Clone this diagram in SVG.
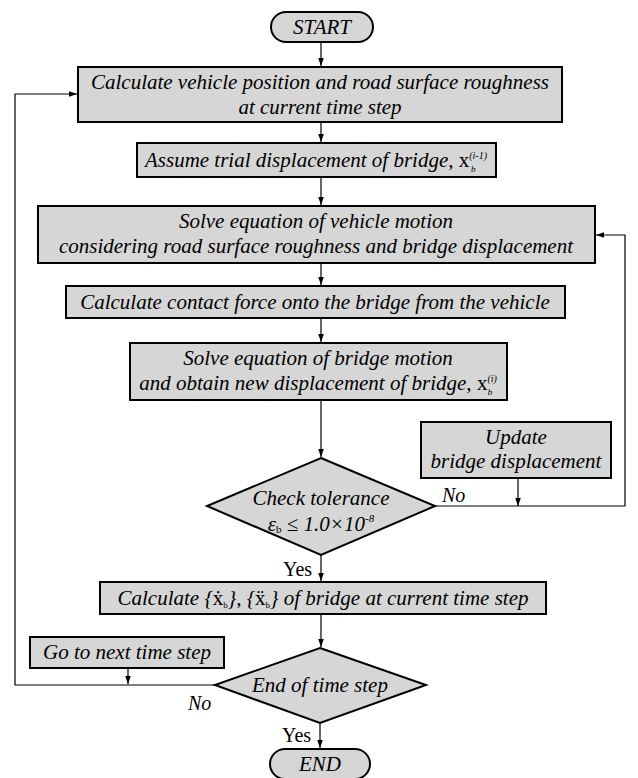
<svg xmlns="http://www.w3.org/2000/svg" width="638" height="778" viewBox="0 0 638 778">
<defs>
<marker id="ah" viewBox="0 0 10 10" refX="10" refY="5" markerWidth="8" markerHeight="8" markerUnits="userSpaceOnUse" orient="auto">
<path d="M0,1.5 L10,5 L0,8.5 z" fill="#000"/>
</marker>
<style>
.n{fill:#d6d6d6;stroke:#000;stroke-width:2}
.t{font-family:"Liberation Serif","Times New Roman",serif;font-style:italic;font-size:21px;fill:#000;text-anchor:middle}
.l{font-family:"Liberation Serif","Times New Roman",serif;font-style:italic;font-size:20px;fill:#000}
.c{fill:none;stroke:#000;stroke-width:1.2}
.up{font-style:normal}
</style>
</defs>
<g id="connectors">
<path class="c" d="M321,42 V66" marker-end="url(#ah)"/>
<path class="c" d="M321,122 V142" marker-end="url(#ah)"/>
<path class="c" d="M321,177 V205" marker-end="url(#ah)"/>
<path class="c" d="M321,263 V285" marker-end="url(#ah)"/>
<path class="c" d="M321,318 V342" marker-end="url(#ah)"/>
<path class="c" d="M321,400 V457" marker-end="url(#ah)"/>
<path class="c" d="M518,478 V506" marker-end="url(#ah)"/>
<path class="c" d="M435,506 H625 V235 H596" marker-end="url(#ah)"/>
<path class="c" d="M321,555 V581" marker-end="url(#ah)"/>
<path class="c" d="M321,614 V647" marker-end="url(#ah)"/>
<path class="c" d="M128,668 V684" marker-end="url(#ah)"/>
<path class="c" d="M215,685 H15 V94 H77" marker-end="url(#ah)"/>
<path class="c" d="M320,723 V748" marker-end="url(#ah)"/>
<text class="l" x="442" y="502">No</text>
<text class="l" x="283" y="576" style="font-style:normal">Yes</text>
<text class="l" x="188" y="710">No</text>
<text class="l" x="282" y="742" style="font-style:normal">Yes</text>
</g>
<g id="start">
<rect class="n" x="271" y="12" width="102" height="30" rx="15"/>
<text class="t" x="322" y="34">START</text>
</g>
<g id="calc-position">
<rect class="n" x="78" y="67" width="484" height="55"/>
<text class="t" x="320" y="89">Calculate vehicle position and road surface roughness</text>
<text class="t" x="320" y="114">at current time step</text>
</g>
<g id="assume-trial">
<rect class="n" x="137" y="143" width="359" height="34"/>
<text class="t" x="316" y="167">Assume trial displacement of bridge, <tspan class="up">x</tspan><tspan font-size="10" dy="-8">(i-1)</tspan><tspan font-size="9" dx="-16" dy="13">b</tspan><tspan dy="-5" dx="8"> </tspan></text>
</g>
<g id="solve-vehicle">
<rect class="n" x="38" y="206" width="557" height="57"/>
<text class="t" x="316" y="228">Solve equation of vehicle motion</text>
<text class="t" x="316" y="253">considering road surface roughness and bridge displacement</text>
</g>
<g id="contact-force">
<rect class="n" x="66" y="286" width="499" height="32"/>
<text class="t" x="315" y="309">Calculate contact force onto the bridge from the vehicle</text>
</g>
<g id="solve-bridge">
<rect class="n" x="130" y="343" width="377" height="57"/>
<text class="t" x="318" y="365">Solve equation of bridge motion</text>
<text class="t" x="318" y="390">and obtain new displacement of bridge, <tspan class="up">x</tspan><tspan font-size="10" dy="-8">(i)</tspan><tspan font-size="9" dx="-9" dy="13">b</tspan><tspan dy="-5" dx="3"> </tspan></text>
</g>
<g id="update">
<rect class="n" x="421" y="422" width="190" height="56"/>
<text class="t" x="516" y="444">Update</text>
<text class="t" x="516" y="468">bridge displacement</text>
</g>
<g id="check-tolerance">
<polygon class="n" points="321,458 435,506 321,555 207,506"/>
<text class="t" x="321" y="505">Check tolerance</text>
<text class="t" x="321" y="531">ε<tspan class="up" font-size="11" dy="2">b</tspan><tspan dy="-2"> ≤ 1.0×10</tspan><tspan font-size="11" dy="-9">-8</tspan></text>
</g>
<g id="calc-velocity">
<rect class="n" x="100" y="582" width="446" height="32"/>
<text class="t" x="323" y="605">Calculate {<tspan class="up">ẋ</tspan><tspan class="up" font-size="9" dy="3">b</tspan><tspan dy="-3">}, {</tspan><tspan class="up">ẍ</tspan><tspan class="up" font-size="9" dy="3">b</tspan><tspan dy="-3">} of bridge at current time step</tspan></text>
</g>
<g id="next-step">
<rect class="n" x="30" y="637" width="194" height="31"/>
<text class="t" x="127" y="659">Go to next time step</text>
</g>
<g id="end-of-time">
<polygon class="n" points="320,648 426,685 320,723 215,685"/>
<text class="t" x="320" y="692">End of time step</text>
</g>
<g id="end">
<rect class="n" x="270" y="749" width="100" height="30" rx="15"/>
<text class="t" x="320" y="771">END</text>
</g>
</svg>
